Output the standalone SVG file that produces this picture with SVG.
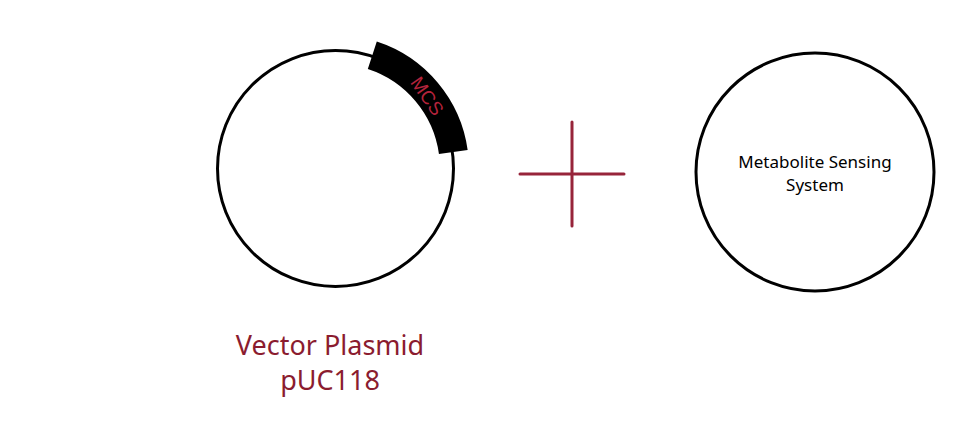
<svg xmlns="http://www.w3.org/2000/svg" width="979" height="423" viewBox="0 0 979 423">
<style>
.ring{fill:none;stroke:#000;stroke-width:3}
.cross{stroke:#97243a;stroke-width:3;stroke-linecap:round}
.lbl{font-family:"Noto Sans","Open Sans",sans-serif;fill:#8b1c2f;font-size:27px;text-anchor:middle}
.sm{font-family:"Noto Sans","Open Sans",sans-serif;fill:#000;font-size:17px;text-anchor:middle}
</style>
<rect width="979" height="423" fill="#fff"/>
<g id="plasmid">
<circle class="ring" cx="335.5" cy="168.5" r="118"/>
<path d="M372.3,55.3 A119,119 0 0 1 453.3,152" fill="none" stroke="#000" stroke-width="29"/>
<text x="426" y="97" transform="rotate(55 426 97)" font-family="Liberation Sans,Arial,sans-serif" font-size="19" fill="#b3233b" text-anchor="middle" dominant-baseline="middle">MCS</text>
<text class="lbl" x="330" y="355">Vector Plasmid</text>
<text class="lbl" x="330" y="390">pUC118</text>
</g>
<g id="plus">
<line class="cross" x1="520" y1="174" x2="624" y2="174"/>
<line class="cross" x1="572" y1="122" x2="572" y2="226"/>
</g>
<g id="sensing">
<circle class="ring" cx="815" cy="172" r="119"/>
<text class="sm" x="815" y="168">Metabolite Sensing</text>
<text class="sm" x="815" y="191">System</text>
</g>
<g id="connectors"/>
</svg>
